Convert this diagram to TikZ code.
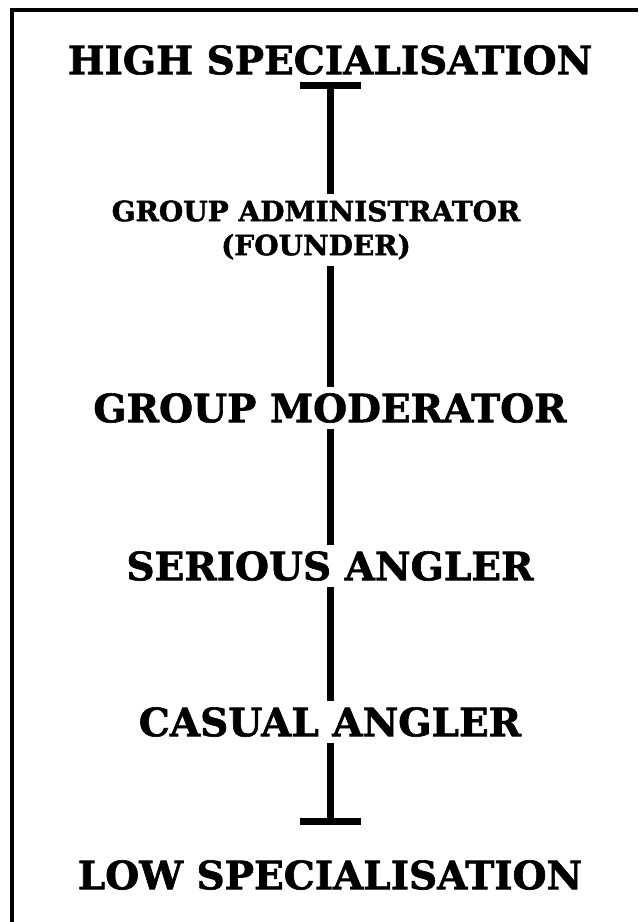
\documentclass[tikz,border=0pt]{standalone}
\usepackage{fontspec}
\usepackage{graphicx}
\setmainfont{DejaVu Serif}[BoldFeatures={FakeBold=1.6}]

\tikzset{
  level/.style={font=\bfseries\fontsize{39}{44}\selectfont, inner sep=6pt},
  small level/.style={font=\bfseries\fontsize{28}{34}\selectfont, align=center, inner sep=6pt},
  stem/.style={line width=7pt},
}

\begin{document}
\begin{tikzpicture}[x=1pt,y=-1pt]
  \useasboundingbox (0,0) rectangle (638,922);
  % frame, top and left side only
  \draw[line width=4pt] (11.5,922) -- (11.5,9.5) -- (638,9.5);

  \node[level]       (high)    at (330,60)  {HIGH SPECIALISATION};
  \node[small level] (admin)   at (316,230) {GROUP ADMINISTRATOR\\(FOUNDER)};
  \node[level]       (mod)     at (330,408) {GROUP MODERATOR};
  \node[level]       (serious) at (330,566) {SERIOUS ANGLER};
  \node[level]       (casual)  at (330,722) {CASUAL ANGLER};
  \node[level]       (low)     at (330,875) {LOW SPECIALISATION};

  \coordinate (top)    at (330,85);
  \coordinate (bottom) at (330,821);

  % the scale with its two end bars
  \draw[stem] (300,85) -- (361,85);
  \draw[stem] (300,821) -- (361,821);
  \draw[stem] (top) -- (top |- admin.north);
  \draw[stem] (top |- admin.south) -- (mod);
  \draw[stem] (mod) -- (serious);
  \draw[stem] (serious) -- (casual);
  \draw[stem] (casual) -- (bottom);
\end{tikzpicture}
\end{document}
